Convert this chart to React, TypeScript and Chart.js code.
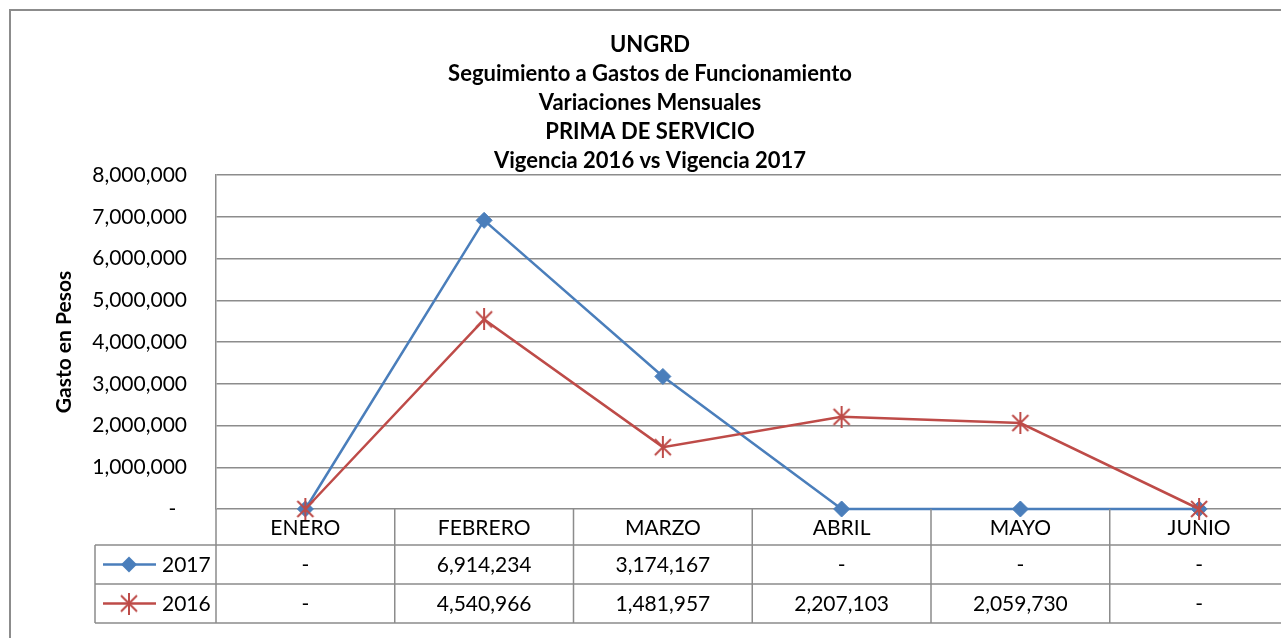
import React, { useEffect, useRef } from 'react';
import { Chart, registerables } from 'chart.js';

Chart.register(...registerables);

const categories = ['ENERO', 'FEBRERO', 'MARZO', 'ABRIL', 'MAYO', 'JUNIO'];
const series2017 = [0, 6914234, 3174167, 0, 0, 0];
const series2016 = [0, 4540966, 1481957, 2207103, 2059730, 0];
const seriesNames = ['2017', '2016'];
const titleLines = [
  'UNGRD',
  'Seguimiento a Gastos de Funcionamiento',
  'Variaciones Mensuales',
  'PRIMA DE SERVICIO',
  'Vigencia 2016 vs Vigencia 2017',
];
const yAxisTitle = 'Gasto en Pesos';
const yMin = 0;
const yMax = 8000000;
const yStep = 1000000;

const BLUE = '#4A7EBB';
const RED = '#BE4B48';
const GRID = '#8C8C8C';
const FONT = 'Lato, "Open Sans", sans-serif';

const fmt = (v: number) => (v === 0 ? '-' : v.toLocaleString('en-US'));

function makeStar(color: string): HTMLCanvasElement {
  const c = document.createElement('canvas');
  c.width = 20;
  c.height = 22;
  const ctx = c.getContext('2d')!;
  ctx.strokeStyle = color;
  ctx.lineWidth = 2;
  ctx.beginPath();
  ctx.moveTo(2, 3);
  ctx.lineTo(18, 19);
  ctx.moveTo(18, 3);
  ctx.lineTo(2, 19);
  ctx.moveTo(10, 0);
  ctx.lineTo(10, 22);
  ctx.stroke();
  return c;
}

export default function App() {
  const ref = useRef<HTMLCanvasElement>(null);

  useEffect(() => {
    document.body.style.margin = '0';
    const star = makeStar(RED);

    const framePlugin = {
      id: 'frame',
      beforeDraw(chart: any) {
        const ctx = chart.ctx;
        ctx.save();
        ctx.fillStyle = '#fff';
        ctx.fillRect(0, 0, chart.width, chart.height);
        ctx.strokeStyle = GRID;
        ctx.lineWidth = 2;
        ctx.strokeRect(10, 10, chart.width + 50, chart.height + 50);
        ctx.restore();
      },
    };

    const tablePlugin = {
      id: 'dataTable',
      afterDraw(chart: any) {
        const ctx = chart.ctx;
        const xs = chart.scales.x;
        const area = chart.chartArea;
        const w = xs.getPixelForValue(1) - xs.getPixelForValue(0);
        const rowH = [36, 39, 39];
        const top = area.bottom;
        const r1 = top + rowH[0];
        const r2 = r1 + rowH[1];
        const r3 = r2 + rowH[2];
        const legendLeft = 95;
        ctx.save();
        ctx.strokeStyle = GRID;
        ctx.lineWidth = 1.5;
        ctx.beginPath();
        for (let i = 0; i <= categories.length; i++) {
          const bx = xs.getPixelForValue(0) - w / 2 + i * w;
          ctx.moveTo(bx, top);
          ctx.lineTo(bx, r3);
        }
        [r1, r2, r3].forEach((yy) => {
          ctx.moveTo(legendLeft, yy);
          ctx.lineTo(chart.width, yy);
        });
        ctx.moveTo(legendLeft, r1);
        ctx.lineTo(legendLeft, r3);
        ctx.stroke();

        ctx.fillStyle = '#000';
        ctx.font = `21px ${FONT}`;
        ctx.textAlign = 'center';
        ctx.textBaseline = 'middle';
        const rows = [series2017, series2016];
        categories.forEach((c, i) => {
          const cx = xs.getPixelForValue(i);
          ctx.fillText(c, cx, (top + r1) / 2 + 1);
          ctx.fillText(fmt(rows[0][i]), cx, (r1 + r2) / 2 + 1);
          ctx.fillText(fmt(rows[1][i]), cx, (r2 + r3) / 2 + 1);
        });

        // legend keys
        const keyY = [(r1 + r2) / 2, (r2 + r3) / 2];
        const colors = [BLUE, RED];
        keyY.forEach((ky, k) => {
          ctx.strokeStyle = colors[k];
          ctx.lineWidth = 2.5;
          ctx.beginPath();
          ctx.moveTo(legendLeft + 8, ky);
          ctx.lineTo(legendLeft + 61, ky);
          ctx.stroke();
          const mx = legendLeft + 34;
          if (k === 0) {
            ctx.fillStyle = BLUE;
            ctx.beginPath();
            ctx.moveTo(mx - 8, ky);
            ctx.lineTo(mx, ky - 8);
            ctx.lineTo(mx + 8, ky);
            ctx.lineTo(mx, ky + 8);
            ctx.closePath();
            ctx.fill();
          } else {
            ctx.drawImage(star, mx - star.width / 2, ky - star.height / 2);
          }
          ctx.fillStyle = '#000';
          ctx.textAlign = 'left';
          ctx.fillText(seriesNames[k], legendLeft + 67, ky + 1);
        });
        ctx.restore();
      },
    };

    const chart = new Chart(ref.current!, {
      type: 'line',
      data: {
        labels: categories,
        datasets: [
          {
            label: seriesNames[0],
            data: series2017,
            borderColor: BLUE,
            backgroundColor: BLUE,
            borderWidth: 2.5,
            pointStyle: 'rectRot',
            pointRadius: 8,
            pointBackgroundColor: BLUE,
            pointBorderColor: BLUE,
            pointBorderWidth: 1,
            tension: 0,
            clip: false,
            order: 1,
          },
          {
            label: seriesNames[1],
            data: series2016,
            borderColor: RED,
            backgroundColor: RED,
            borderWidth: 2.5,
            pointStyle: star,
            pointRadius: 9,
            tension: 0,
            clip: false,
            order: 0,
          },
        ],
      },
      options: {
        animation: false,
        responsive: false,
        devicePixelRatio: 1,
        layout: { padding: { left: 8, right: 8, top: 0, bottom: 129 } },
        plugins: {
          legend: { display: false },
          tooltip: { enabled: false },
          title: {
            display: true,
            text: titleLines,
            color: '#000',
            font: { family: FONT, size: 22, weight: 'bold', lineHeight: 29 / 22 },
            padding: { top: 30, bottom: 0 },
          },
        },
        scales: {
          x: { type: 'category', display: false, offset: true },
          y: {
            min: yMin,
            max: yMax,
            ticks: {
              stepSize: yStep,
              padding: 29,
              color: '#000',
              font: { family: FONT, size: 21 },
              callback: (v: any) => (Number(v) === 0 ? '-  ' : Number(v).toLocaleString('en-US')),
            },
            grid: { color: GRID, lineWidth: 1.5, drawTicks: false },
            border: { color: GRID, width: 1.5 },
            title: {
              display: true,
              text: yAxisTitle,
              color: '#000',
              font: { family: FONT, size: 21, weight: 'bold' },
              padding: { top: 44, bottom: 0 },
            },
            afterFit: (s: any) => {
              s.width = 208;
            },
          },
        },
      },
      plugins: [framePlugin, tablePlugin],
    } as any);
    return () => chart.destroy();
  }, []);

  return (
    <div style={{ width: 1281, height: 638, overflow: 'hidden', position: 'relative' }}>
      <canvas ref={ref} width={1300} height={638} style={{ display: 'block' }} />
    </div>
  );
}
